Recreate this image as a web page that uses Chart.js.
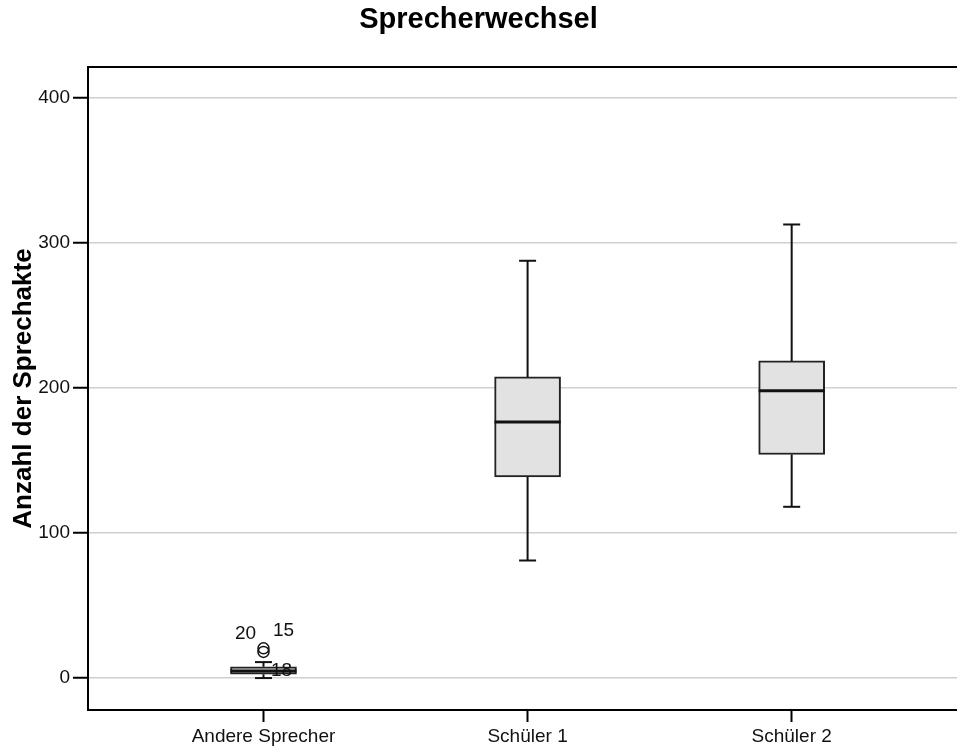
<!DOCTYPE html>
<html>
<head>
<meta charset="utf-8">
<script src="https://cdn.jsdelivr.net/npm/chart.js@4"></script>
<style>
  body { margin: 0; background: #fff; }
</style>
</head>
<body>
<canvas id="chart" width="957" height="747"></canvas>
<script>
// data
const categories = ["Andere Sprecher", "Schüler 1", "Schüler 2"];
const whiskerLow = [0, 81, 118];
const q1 = [2.6, 138.5, 154];
const median = [4.8, 176.5, 198];
const q3 = [7.8, 207.5, 218.5];
const whiskerHigh = [11, 287.5, 312.5];
const outliers = [[20.5, 18], [], []];
const outlierIds = [["20", "15"], [], []];
const yTicks = [0, 100, 200, 300, 400];
// label without a visible circle, next to the first box
const strayLabel = { cat: 0, value: 5, text: "18" };

const font = '"Liberation Sans", Arial, sans-serif';
const boxWidth = 66;
const labelOffsets = [[-18, -15], [20, -21]];

const boxPlugin = {
  id: "boxParts",
  afterDatasetsDraw(chart) {
    const { ctx, scales: { x, y }, chartArea } = chart;
    ctx.save();
    ctx.strokeStyle = "#111";
    ctx.lineCap = "butt";

    categories.forEach((c, i) => {
      const cx = x.getPixelForValue(i);
      // whiskers
      ctx.lineWidth = 2;
      ctx.beginPath();
      ctx.moveTo(cx, y.getPixelForValue(whiskerHigh[i]));
      ctx.lineTo(cx, y.getPixelForValue(q3[i]));
      ctx.moveTo(cx, y.getPixelForValue(q1[i]));
      ctx.lineTo(cx, y.getPixelForValue(whiskerLow[i]));
      ctx.stroke();
      // caps
      [whiskerHigh[i], whiskerLow[i]].forEach(v => {
        const py = y.getPixelForValue(v);
        ctx.beginPath();
        ctx.moveTo(cx - 8.5, py);
        ctx.lineTo(cx + 8.5, py);
        ctx.stroke();
      });
      // median
      ctx.lineWidth = 3;
      const my = y.getPixelForValue(median[i]);
      ctx.beginPath();
      ctx.moveTo(cx - boxWidth / 2, my);
      ctx.lineTo(cx + boxWidth / 2, my);
      ctx.stroke();
      // outliers
      ctx.lineWidth = 1.5;
      ctx.fillStyle = "#111";
      ctx.font = "19px " + font;
      ctx.textAlign = "center";
      ctx.textBaseline = "middle";
      outliers[i].forEach((v, k) => {
        const py = y.getPixelForValue(v);
        ctx.beginPath();
        ctx.arc(cx, py, 5.5, 0, Math.PI * 2);
        ctx.stroke();
        const off = labelOffsets[k] || [16, 0];
        ctx.fillText(outlierIds[i][k], cx + off[0], py + off[1]);
      });
    });

    ctx.font = "19px " + font;
    ctx.textAlign = "center";
    ctx.textBaseline = "middle";
    ctx.fillText(strayLabel.text,
      x.getPixelForValue(strayLabel.cat) + 18,
      y.getPixelForValue(strayLabel.value));

    // top frame line
    ctx.lineWidth = 2;
    ctx.strokeStyle = "#000";
    ctx.beginPath();
    ctx.moveTo(chartArea.left, chartArea.top);
    ctx.lineTo(chartArea.right, chartArea.top);
    ctx.stroke();

    // y axis title
    ctx.save();
    ctx.translate(31, (chartArea.top + chartArea.bottom) / 2);
    ctx.rotate(-Math.PI / 2);
    ctx.font = "bold 26px " + font;
    ctx.textAlign = "center";
    ctx.textBaseline = "alphabetic";
    ctx.fillStyle = "#000";
    ctx.fillText("Anzahl der Sprechakte", 0, 0);
    ctx.restore();

    ctx.restore();
  }
};

new Chart(document.getElementById("chart"), {
  type: "bar",
  data: {
    datasets: [{
      data: categories.map((c, i) => ({ x: i, y: [q1[i], q3[i]] })),
      backgroundColor: "#e2e2e2",
      borderColor: "#222",
      borderWidth: 2,
      borderSkipped: false,
      barThickness: boxWidth
    }]
  },
  options: {
    responsive: false,
    animation: false,
    layout: { padding: 0 },
    plugins: {
      legend: { display: false },
      tooltip: { enabled: false },
      title: {
        display: true,
        text: "Sprecherwechsel",
        color: "#000",
        font: { family: font, size: 29, weight: "bold", lineHeight: 1.2 },
        padding: { top: 3, bottom: 29.2 }
      }
    },
    scales: {
      x: {
        type: "linear",
        offset: false,
        min: -0.6645,
        max: 2.626,
        afterBuildTicks: s => { s.ticks = categories.map((c, i) => ({ value: i })); },
        afterFit: s => { s.height = 37; },
        ticks: {
          callback: v => categories[v],
          color: "#111",
          font: { family: font, size: 19 },
          padding: 3,
          maxRotation: 0
        },
        grid: {
          offset: false,
          drawOnChartArea: false,
          tickLength: 12,
          tickColor: "#000",
          tickWidth: 2
        },
        border: { color: "#000", width: 2 }
      },
      y: {
        min: -22,
        max: 421,
        afterBuildTicks: s => { s.ticks = yTicks.map(v => ({ value: v })); },
        afterFit: s => { s.width = 88; },
        ticks: {
          color: "#111",
          font: { family: font, size: 19 },
          padding: 3
        },
        grid: {
          color: "#cfcfcf",
          lineWidth: 1.5,
          tickLength: 15,
          tickColor: "#000",
          tickWidth: 2
        },
        border: { color: "#000", width: 2 }
      }
    }
  },
  plugins: [boxPlugin]
});
</script>
</body>
</html>
